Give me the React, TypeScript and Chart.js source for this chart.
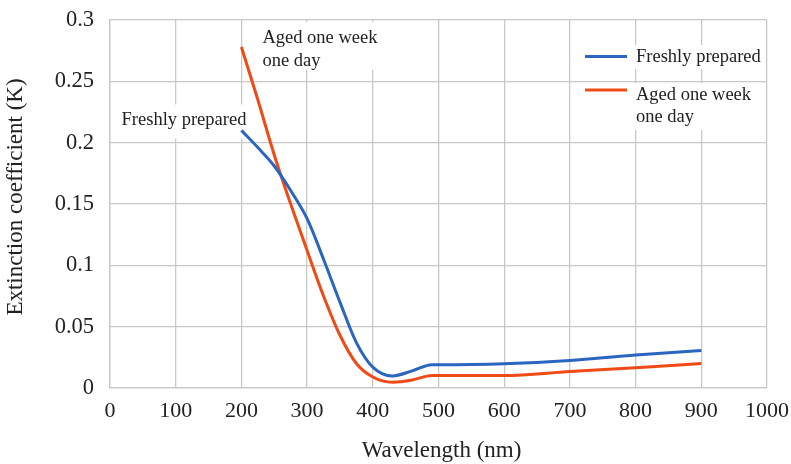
import React, { useEffect, useRef } from "react";
import { Chart, registerables } from "chart.js";

Chart.register(...registerables);

// Wavelength samples (nm) shared by both spectra
const wavelengths = [200, 225, 250, 275, 300, 325, 350, 375, 400, 430, 460, 490, 500, 600, 700, 800, 900];

// Extinction coefficient K for each sample
const freshlyPrepared = [0.21, 0.196, 0.181, 0.161, 0.138, 0.105, 0.07, 0.037, 0.017, 0.0098, 0.014, 0.019, 0.019, 0.0198, 0.0225, 0.027, 0.0305];
const agedOneWeekOneDay = [0.278, 0.235, 0.19, 0.15, 0.112, 0.075, 0.043, 0.02, 0.009, 0.0047, 0.0065, 0.0102, 0.0102, 0.0102, 0.0135, 0.0165, 0.02];

const seriesNames = ["Freshly prepared", "Aged one week one day"];
const legendLines = [["Freshly prepared"], ["Aged one week", "one day"]];
const xTitle = "Wavelength (nm)";
const yTitle = "Extinction coefficient (K)";

const BLUE = "#2a66c0";
const ORANGE = "#ee4b16";
const GRID = "#c8c8c8";
const TEXT = "#222222";
const FONT = "'Liberation Serif', 'Times New Roman', serif";

const overlays = {
  id: "overlays",
  beforeDatasetsDraw(chart: any) {
    const { ctx, chartArea, scales } = chart;
    const xs = scales.x;
    const ys = scales.y;
    ctx.save();
    ctx.font = `18.5px ${FONT}`;
    ctx.textBaseline = "middle";

    // label next to the start of the fresh curve
    const fx = xs.getPixelForValue(wavelengths[0]);
    const fy = ys.getPixelForValue(freshlyPrepared[0]);
    const fw = ctx.measureText(legendLines[0][0]).width;
    ctx.fillStyle = "#ffffff";
    ctx.fillRect(fx + 6 - fw - 6, fy - 26, fw + 10, 34);
    ctx.fillStyle = TEXT;
    ctx.textAlign = "right";
    ctx.fillText(legendLines[0][0], fx + 5, fy - 10);

    // label next to the start of the aged curve
    const ax = xs.getPixelForValue(wavelengths[0]) + 21;
    const ay = ys.getPixelForValue(agedOneWeekOneDay[0]) - 9;
    const aw = ctx.measureText(legendLines[1][0]).width;
    ctx.fillStyle = "#ffffff";
    ctx.fillRect(ax - 5, ay - 16, aw + 10, 48);
    ctx.fillStyle = TEXT;
    ctx.textAlign = "left";
    ctx.fillText(legendLines[1][0], ax, ay);
    ctx.fillText(legendLines[1][1], ax, ay + 23);

    // legend
    const lx0 = chartArea.right - 182;
    const lx1 = chartArea.right - 140;
    const tx = chartArea.right - 131;
    const rows = [
      { color: BLUE, lineY: chartArea.top + 36.5, textY: chartArea.top + 37, lines: legendLines[0] },
      { color: ORANGE, lineY: chartArea.top + 70, textY: chartArea.top + 75, lines: legendLines[1] },
    ];
    rows.forEach((r) => {
      const w = Math.max(...r.lines.map((l: string) => ctx.measureText(l).width));
      ctx.fillStyle = "#ffffff";
      ctx.fillRect(tx - 3, r.textY - 12, w + 8, 23 * r.lines.length + 1);
      ctx.strokeStyle = r.color;
      ctx.lineWidth = 3;
      ctx.beginPath();
      ctx.moveTo(lx0, r.lineY);
      ctx.lineTo(lx1, r.lineY);
      ctx.stroke();
      ctx.fillStyle = TEXT;
      ctx.textAlign = "left";
      r.lines.forEach((l: string, i: number) => ctx.fillText(l, tx, r.textY + i * 22));
    });
    ctx.restore();
  },
  afterDraw(chart: any) {
    const { ctx, chartArea } = chart;
    ctx.save();
    ctx.fillStyle = TEXT;
    ctx.font = `23px ${FONT}`;
    ctx.textAlign = "center";
    ctx.textBaseline = "middle";
    ctx.fillText(xTitle, (chartArea.left + chartArea.right) / 2 + 3, 451);
    ctx.translate(16, (chartArea.top + chartArea.bottom) / 2 - 7);
    ctx.rotate(-Math.PI / 2);
    ctx.fillText(yTitle, 0, 0);
    ctx.restore();
  },
};

export default function App() {
  const canvasRef = useRef<HTMLCanvasElement | null>(null);

  useEffect(() => {
    document.body.style.margin = "0";
    const canvas = canvasRef.current;
    if (!canvas) return;
    const chart = new Chart(canvas, {
      type: "line",
      data: {
        datasets: [
          {
            label: seriesNames[0],
            data: wavelengths.map((w, i) => ({ x: w, y: freshlyPrepared[i] })),
            borderColor: BLUE,
            backgroundColor: BLUE,
            borderWidth: 3,
            pointRadius: 0,
            cubicInterpolationMode: "monotone",
          },
          {
            label: seriesNames[1],
            data: wavelengths.map((w, i) => ({ x: w, y: agedOneWeekOneDay[i] })),
            borderColor: ORANGE,
            backgroundColor: ORANGE,
            borderWidth: 3,
            pointRadius: 0,
            cubicInterpolationMode: "monotone",
          },
        ],
      },
      options: {
        animation: false,
        responsive: false,
        maintainAspectRatio: false,
        layout: { padding: { top: 20, right: 24, left: 0, bottom: 0 } },
        plugins: { legend: { display: false }, tooltip: { enabled: false } },
        scales: {
          x: {
            type: "linear",
            min: 0,
            max: 1000,
            grid: { color: GRID, lineWidth: 1.3, drawTicks: false },
            border: { color: GRID, width: 1.3 },
            ticks: {
              stepSize: 100,
              padding: 10,
              color: TEXT,
              font: { family: FONT, size: 22 },
              callback: (v: any) => String(v),
            },
            afterFit(scale: any) {
              scale.height = 76;
              scale.paddingLeft = 0;
              scale.paddingRight = 0;
            },
          },
          y: {
            type: "linear",
            min: 0,
            max: 0.3,
            grid: { color: GRID, lineWidth: 1.3, drawTicks: false },
            border: { color: GRID, width: 1.3 },
            ticks: {
              stepSize: 0.05,
              padding: 16,
              color: TEXT,
              font: { family: FONT, size: 22.5 },
              callback: (v: any) => String(Number(Number(v).toFixed(2))),
            },
            afterFit(scale: any) {
              scale.width = 110;
              scale.paddingTop = 0;
              scale.paddingBottom = 0;
            },
          },
        },
      },
      plugins: [overlays],
    } as any);
    return () => chart.destroy();
  }, []);

  return (
    <div style={{ position: "fixed", left: 0, top: 0, width: 791, height: 464, background: "#ffffff" }}>
      <canvas ref={canvasRef} width={791} height={464} style={{ display: "block" }} />
    </div>
  );
}
